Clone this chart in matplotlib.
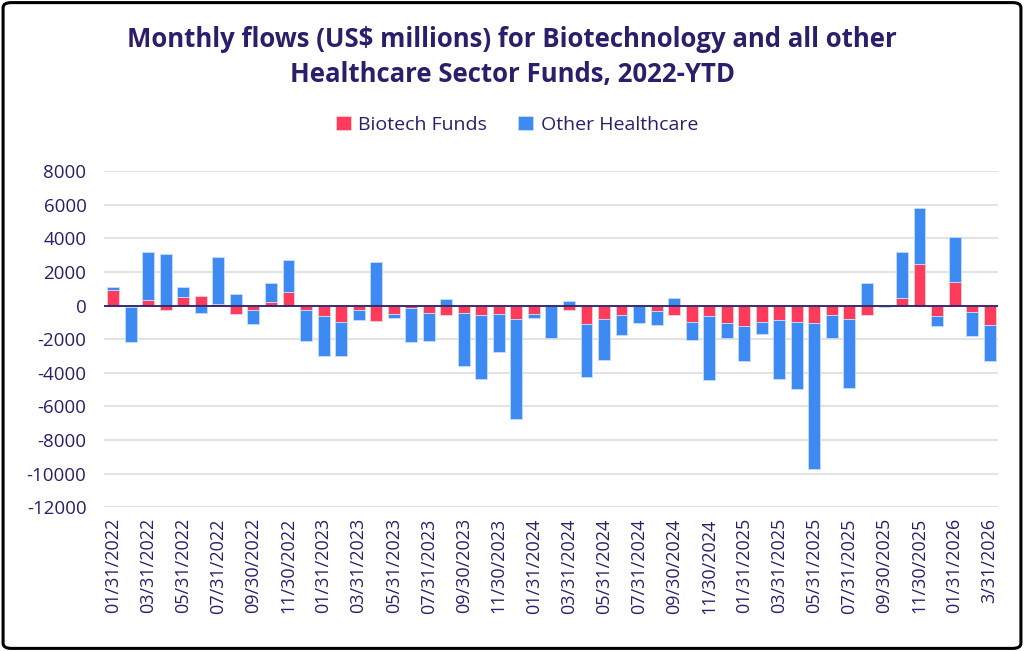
import matplotlib
matplotlib.use("Agg")
import matplotlib.pyplot as plt
from matplotlib.patches import FancyBboxPatch
import numpy as np

months = ["01/31/2022","02/28/2022","03/31/2022","04/30/2022","05/31/2022","06/30/2022",
          "07/31/2022","08/31/2022","09/30/2022","10/31/2022","11/30/2022","12/31/2022",
          "01/31/2023","02/28/2023","03/31/2023","04/30/2023","05/31/2023","06/30/2023",
          "07/31/2023","08/31/2023","09/30/2023","10/31/2023","11/30/2023","12/31/2023",
          "01/31/2024","02/29/2024","03/31/2024","04/30/2024","05/31/2024","06/30/2024",
          "07/31/2024","08/31/2024","09/30/2024","10/31/2024","11/30/2024","12/31/2024",
          "01/31/2025","02/28/2025","03/31/2025","04/30/2025","05/31/2025","06/30/2025",
          "07/31/2025","08/31/2025","09/30/2025","10/31/2025","11/30/2025","12/31/2025",
          "01/31/2026","02/28/2026","3/31/2026"]

biotech = [950, -80, 340, -240, 535, 555, 80, -500, -240, 200, 815, -240,
           -615, -970, -280, -910, -475, -140, -415, -535, -415, -575, -475, -775,
           -475, -30, -240, -1110, -775, -575, -30, -340, -575, -970, -635, -1050,
           -1230, -950, -835, -970, -1010, -535, -775, -555, -20, 455, 2480, -635,
           1430, -395, -1170]

other = [140, -2100, 2850, 3075, 575, -420, 2820, 675, -830, 1130, 1905, -1880,
         -2360, -2045, -550, 2620, -260, -2020, -1665, 375, -3195, -3810, -2305, -5990,
         -260, -1890, 300, -3135, -2440, -1190, -1000, -790, 435, -1095, -3770, -875,
         -2085, -755, -3510, -3970, -8710, -1390, -4125, 1370, -40, 2740, 3315, -575,
         2675, -1430, -2145]

yticks = [8000, 6000, 4000, 2000, 0, -2000, -4000, -6000, -8000, -10000, -12000]

navy = "#2A1F6B"
red = "#FF3B5C"
blue = "#3D8BF2"

plt.rcParams['font.family'] = ['Open Sans', 'DejaVu Sans']

fig = plt.figure(figsize=(10.24, 6.51), dpi=100)
ax = fig.add_axes([0.102, 0.221, 0.873, 0.516])

x = np.arange(len(months))
b = np.array(biotech, dtype=float)
o = np.array(other, dtype=float)
# Excel-style stacking: positives stack up, negatives stack down
b_base = np.zeros_like(b)
o_base = np.where(np.sign(o) == np.sign(b), b, 0.0)

w = 0.68
ax.bar(x, b, w, bottom=b_base, color=red, edgecolor="#FFD0D8", linewidth=0.6,
       label="Biotech Funds", zorder=3)
ax.bar(x, o, w, bottom=o_base, color=blue, edgecolor="#C8DDFB", linewidth=0.6,
       label="Other Healthcare", zorder=3)

ax.axhline(0, color=navy, linewidth=1.3, zorder=4)
ax.set_ylim(-12000, 8000)
ax.set_xlim(-0.5, len(months) - 0.5)
ax.set_yticks(yticks)
ax.set_yticklabels([str(v) for v in yticks])
ax.yaxis.grid(True, color="#E3E3E3", linewidth=1.5, zorder=0)
ax.set_axisbelow(True)
for s in ax.spines.values():
    s.set_visible(False)
ax.tick_params(axis='both', length=0, colors=navy, labelsize=13)
ax.tick_params(axis='y', pad=13, labelsize=13.5)
ax.set_xticks(x[::2])
ax.set_xticklabels(months[::2], rotation=90, fontsize=13, color=navy)
ax.tick_params(axis='x', pad=8)

fig.text(0.5, 0.939, "Monthly flows (US$ millions) for Biotechnology and all other",
         ha='center', va='center', fontsize=18.5, fontweight='bold', color=navy)
fig.text(0.5, 0.886, "Healthcare Sector Funds, 2022-YTD",
         ha='center', va='center', fontsize=18.5, fontweight='bold', color=navy)

leg = fig.legend(loc='center', bbox_to_anchor=(0.505, 0.808), ncol=2, frameon=False,
                 fontsize=14, handlelength=0.75, handleheight=0.75, columnspacing=1.6,
                 handletextpad=0.4)
for t in leg.get_texts():
    t.set_color(navy)

border = FancyBboxPatch((0.003, 0.004), 0.994, 0.992, boxstyle="round,pad=0,rounding_size=0.008",
                        transform=fig.transFigure, fill=False, edgecolor="black", linewidth=2.2)
fig.patches.append(border)

fig.savefig("out.png", dpi=100)
